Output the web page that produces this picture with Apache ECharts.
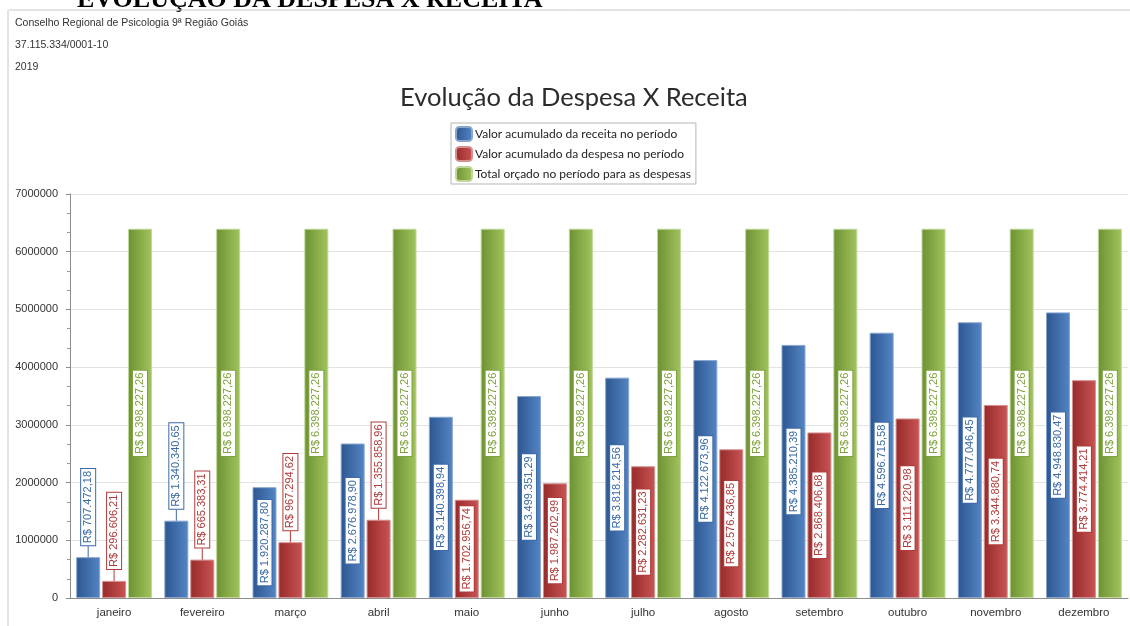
<!DOCTYPE html>
<html>
<head>
<meta charset="utf-8">
<script src="https://cdn.jsdelivr.net/npm/echarts@6/dist/echarts.min.js"></script>
<style>
html,body{margin:0;padding:0;background:#fff;}
#chart{width:1130px;height:626px;}
</style>
</head>
<body>
<div id="chart"></div>
<script>
const categories = ['janeiro','fevereiro','março','abril','maio','junho','julho','agosto','setembro','outubro','novembro','dezembro'];
const receita = [707472.18, 1340340.65, 1920287.80, 2676978.90, 3140398.94, 3499351.29, 3818214.56, 4122673.96, 4385210.39, 4596715.58, 4777046.45, 4948830.47];
const despesa = [296606.21, 665383.31, 967294.62, 1355858.96, 1702956.74, 1987202.99, 2282631.23, 2576436.85, 2868406.68, 3111220.98, 3344880.74, 3774414.21];
const orcado = [6398227.26, 6398227.26, 6398227.26, 6398227.26, 6398227.26, 6398227.26, 6398227.26, 6398227.26, 6398227.26, 6398227.26, 6398227.26, 6398227.26];
const seriesNames = ['Valor acumulado da receita no período','Valor acumulado da despesa no período','Total orçado no período para as despesas'];
const headerLines = ['Conselho Regional de Psicologia 9ª Região Goiás','37.115.334/0001-10','2019'];
const yTicks = {min: 0, max: 7000000, interval: 1000000};

function brl(v){
  const parts = v.toFixed(2).split('.');
  const intPart = parts[0].replace(/\B(?=(\d{3})+(?!\d))/g, '.');
  return 'R$ ' + intPart + ',' + parts[1];
}
function grad(c1, c2){
  return new echarts.graphic.LinearGradient(0,0,1,0,[{offset:0,color:c1},{offset:1,color:c2}]);
}
const labelFont = 'Liberation Sans';
function buildData(arr, txtColor){
  return arr.map(v => {
    const inside = v > 1500000;
    return {
      value: v,
      label: inside ? {position:'inside', rotate:90, align:'center', verticalAlign:'middle'}
                    : {position:'top', rotate:90, align:'left', verticalAlign:'middle', distance:12},
      labelLine: {show: !inside, lineStyle:{color: txtColor, width:1}}
    };
  });
}
function mkSeries(name, arr, c1, c2, txt, border){
  return {
    name: name,
    type: 'bar',
    barWidth: 24,
    barGap: '8%',
    data: buildData(arr, txt),
    itemStyle: {color: grad(c1, c2), borderColor: border, borderWidth: 1},
    label: {
      show: true,
      formatter: p => brl(p.value),
      color: txt,
      fontFamily: labelFont,
      fontSize: 11,
      backgroundColor: '#fff',
      borderColor: txt,
      borderWidth: 1,
      padding: [2, 2, 1, 2]
    },
    labelLayout: function(){ return {}; }
  };
}

const chart = echarts.init(document.getElementById('chart'), null, {renderer:'canvas'});
const option = {
  animation: false,
  backgroundColor: '#fff',
  title: {
    text: 'Evolução da Despesa X Receita',
    left: 395,
    top: 80,
    textStyle: {fontFamily:'Lato', fontSize: 25.5, fontWeight: 'normal', color: '#2b2b2b'}
  },
  legend: {
    orient: 'vertical',
    left: 451,
    top: 123,
    data: seriesNames,
    itemWidth: 16,
    itemHeight: 14,
    itemGap: 4,
    padding: [3, 5, 2, 4],
    borderColor: '#b5b5b5',
    borderWidth: 1,
    selectedMode: false,
    textStyle: {fontFamily:'Lato', fontSize: 12, lineHeight: 14, color: '#222', padding:[0,0,0,-2]}
  },
  grid: {left: 70, right: 2, top: 194, bottom: 28, containLabel: false},
  xAxis: {
    type: 'category',
    data: categories,
    axisLine: {lineStyle:{color:'#8c8c8c'}},
    axisTick: {alignWithLabel: true, length: 5, lineStyle:{color:'#8c8c8c'}},
    axisLabel: {fontFamily:'Liberation Sans', fontSize: 11.5, color:'#333', margin: 9}
  },
  yAxis: {
    type: 'value',
    min: yTicks.min, max: yTicks.max, interval: yTicks.interval,
    axisLine: {show: true, lineStyle:{color:'#8c8c8c'}},
    axisTick: {show: true, length: 4, lineStyle:{color:'#8c8c8c'}},
    minorTick: {show: true, splitNumber: 3, length: 3, lineStyle:{color:'#999'}},
    splitLine: {lineStyle:{color:'#e3e3e3'}},
    axisLabel: {fontFamily:'Liberation Sans', fontSize: 11, color:'#333', margin: 12, formatter: v => String(v)}
  },
  graphic: [
    {type:'text', left: 77, top: -13, style:{text:'EVOLUÇÃO DA DESPESA X RECEITA', font:'bold 26px "Liberation Serif"', fill:'#000'}},
    {type:'line', shape:{x1:9, y1:10, x2:1130, y2:10}, style:{stroke:'#c8c8c8', lineWidth:1}},
    {type:'line', shape:{x1:8, y1:10, x2:8, y2:626}, style:{stroke:'#c8c8c8', lineWidth:1}},
    {type:'text', left: 15, top: 18, style:{text: headerLines[0], font:'10.5px "Liberation Sans"', fill:'#333'}},
    {type:'text', left: 15, top: 40, style:{text: headerLines[1], font:'10.5px "Liberation Sans"', fill:'#333'}},
    {type:'text', left: 15, top: 62, style:{text: headerLines[2], font:'10.5px "Liberation Sans"', fill:'#333'}}
  ],
  series: [
    mkSeries(seriesNames[0], receita, '#2c5690', '#5485c4', '#3b6aa6', '#8aa7d0'),
    mkSeries(seriesNames[1], despesa, '#972a2a', '#c95454', '#b13a3a', '#d59090'),
    mkSeries(seriesNames[2], orcado, '#6c9132', '#a2c45e', '#7ea23c', '#c0d89a')
  ]
};
chart.setOption(option);
</script>
</body>
</html>
